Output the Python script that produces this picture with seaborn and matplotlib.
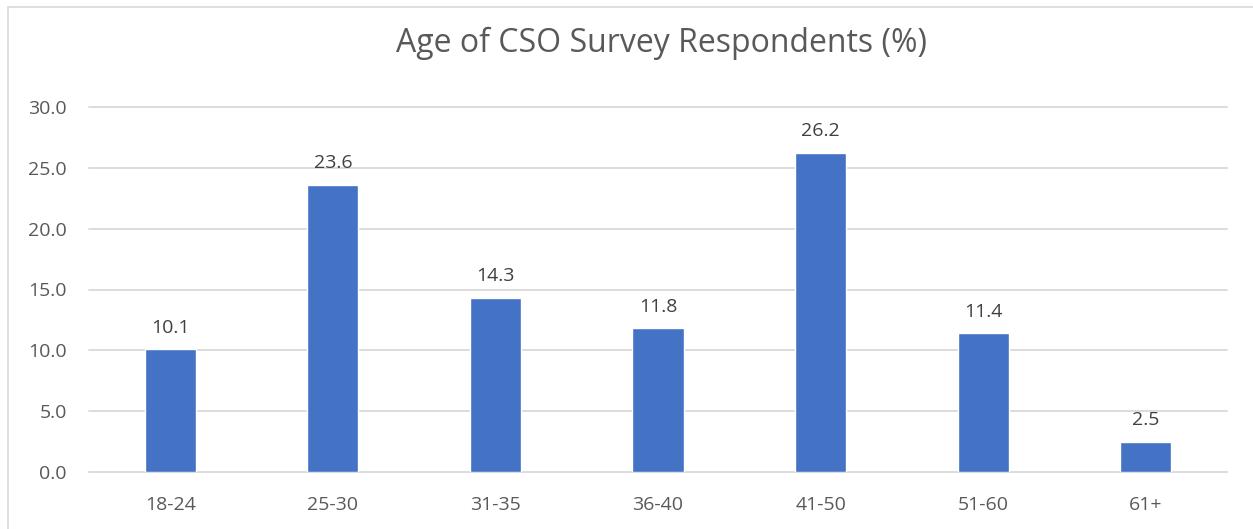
import matplotlib
matplotlib.use("Agg")
import matplotlib.pyplot as plt
from matplotlib.patches import Rectangle
import seaborn as sns
import pandas as pd

age_groups = ["18-24", "25-30", "31-35", "36-40", "41-50", "51-60", "61+"]
shares = [10.1, 23.6, 14.3, 11.8, 26.2, 11.4, 2.5]
y_ticks = [0, 5, 10, 15, 20, 25, 30]
title = "Age of CSO Survey Respondents (%)"

sns.set_theme(style="white")
plt.rcParams["font.family"] = ["Open Sans", "DejaVu Sans"]

W, H = 1253, 529
fig = plt.figure(figsize=(W / 100, H / 100), dpi=100)
fig.patch.set_facecolor("white")
ax = fig.add_axes([89 / W, 1 - 472.3 / H, (1227 - 89) / W, (472.3 - 106.7) / H])

df = pd.DataFrame({"age": age_groups, "share": shares})
sns.barplot(data=df, x="age", y="share", order=age_groups, color="#4472C4",
            saturation=1, width=0.314, ax=ax, zorder=3)

ax.set_ylim(0, 30)
ax.set_xlim(-0.5, len(age_groups) - 0.5)
ax.set_yticks(y_ticks)
ax.set_yticklabels([f"{t:.1f}" for t in y_ticks])
ax.set_xlabel("")
ax.set_ylabel("")
for s in ax.spines.values():
    s.set_visible(False)
ax.yaxis.grid(True, color="#D9D9D9", linewidth=1.3)
for gl in ax.get_ygridlines():
    gl.set_clip_on(False)
ax.set_axisbelow(True)
ax.tick_params(axis="y", length=0, pad=16, labelsize=14, labelcolor="#595959")
ax.tick_params(axis="x", length=0, pad=17, labelsize=14, labelcolor="#595959")

for patch, v in zip(ax.patches, shares):
    ax.annotate(f"{v:.1f}", (patch.get_x() + patch.get_width() / 2, v),
                xytext=(0, 12), textcoords="offset points", ha="center",
                va="baseline", fontsize=14, color="#404040")

fig.text(0.5 * (393 + 930) / W, 1 - 52 / H, title, ha="center", va="baseline",
         fontsize=23, color="#595959")

fig.add_artist(Rectangle((7.5 / W, -0.1), 1.2, 1 - 7.5 / H + 0.1,
                         transform=fig.transFigure, fill=False,
                         edgecolor="#D9D9D9", linewidth=1.2, clip_on=False))

fig.savefig("out.png", dpi=100, facecolor="white")
